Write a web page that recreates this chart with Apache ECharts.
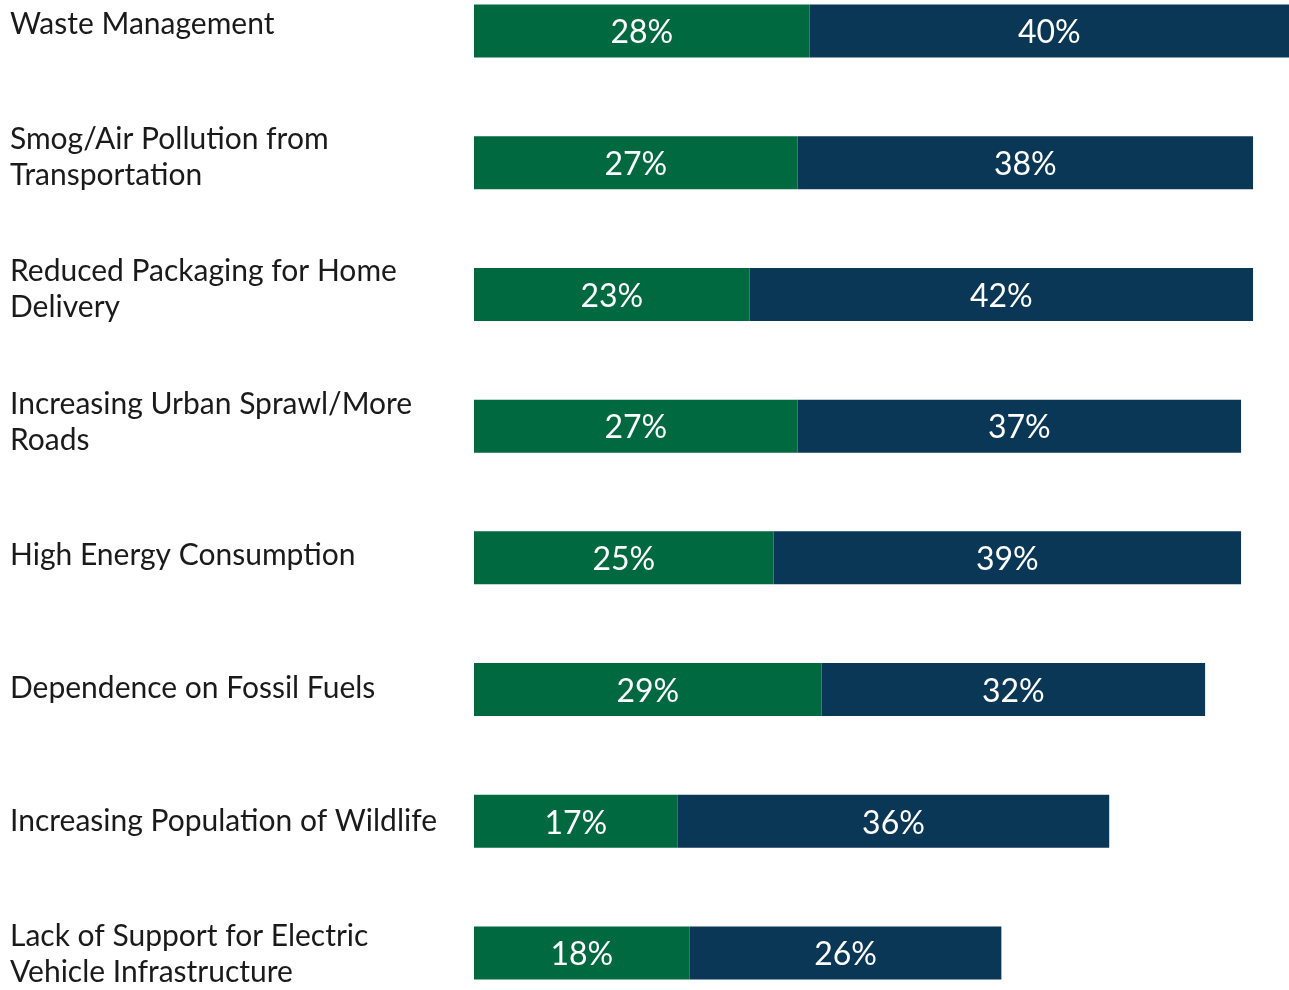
<!DOCTYPE html>
<html>
<head>
<meta charset="utf-8">
<title>Concerns</title>
<script src="https://cdn.jsdelivr.net/npm/echarts@6/dist/echarts.min.js"></script>
<style>
  html, body { margin: 0; padding: 0; background: #fff; }
  #chart { width: 1289px; height: 990px; }
</style>
</head>
<body>
<div id="chart"></div>
<script>
const categories = [
  'Waste Management',
  'Smog/Air Pollution from\nTransportation',
  'Reduced Packaging for Home\nDelivery',
  'Increasing Urban Sprawl/More\nRoads',
  'High Energy Consumption',
  'Dependence on Fossil Fuels',
  'Increasing Population of Wildlife',
  'Lack of Support for Electric\nVehicle Infrastructure'
]
const greenValues = [28, 27, 23, 27, 25, 29, 17, 18]
const navyValues = [40, 38, 42, 37, 39, 32, 36, 26]
const blankValues = [null, null, null, null, null, null, null, null]

const green = '#006940'
const navy = '#0b3757'
const font = 'Lato, "Open Sans", sans-serif'

const chart = echarts.init(document.getElementById('chart'))

const barLabel = {
  show: true,
  position: 'inside',
  offset: [0, 2],
  color: '#fff',
  fontFamily: font,
  fontSize: 32,
  formatter: '{c}%'
}

chart.setOption({
  animation: false,
  grid: [
    // labels only, spaced a little wider than the bars
    { left: 474, right: 0, top: 24, bottom: 27 },
    // the bars
    { left: 474, right: 0, top: 31, bottom: 37 }
  ],
  xAxis: [
    { gridIndex: 0, type: 'value', min: 0, max: 68, show: false },
    { gridIndex: 1, type: 'value', min: 0, max: 68, show: false }
  ],
  yAxis: [
    {
      gridIndex: 0,
      type: 'category',
      inverse: true,
      boundaryGap: false,
      data: categories,
      axisLine: { show: false },
      axisTick: { show: false },
      splitLine: { show: false },
      axisLabel: {
        align: 'left',
        margin: 464,
        color: '#1a1a1a',
        fontFamily: font,
        fontSize: 30,
        lineHeight: 36
      }
    },
    {
      gridIndex: 1,
      type: 'category',
      inverse: true,
      boundaryGap: false,
      data: categories,
      show: false
    }
  ],
  series: [
    {
      type: 'bar',
      xAxisIndex: 0,
      yAxisIndex: 0,
      data: blankValues,
      silent: true
    },
    {
      name: 'green',
      type: 'bar',
      stack: 'total',
      xAxisIndex: 1,
      yAxisIndex: 1,
      barWidth: 53,
      data: greenValues,
      itemStyle: { color: green },
      label: barLabel
    },
    {
      name: 'navy',
      type: 'bar',
      stack: 'total',
      xAxisIndex: 1,
      yAxisIndex: 1,
      barWidth: 53,
      data: navyValues,
      itemStyle: { color: navy },
      label: barLabel
    }
  ]
})

window.onresize = function () {
  chart.resize()
}
</script>
</body>
</html>
